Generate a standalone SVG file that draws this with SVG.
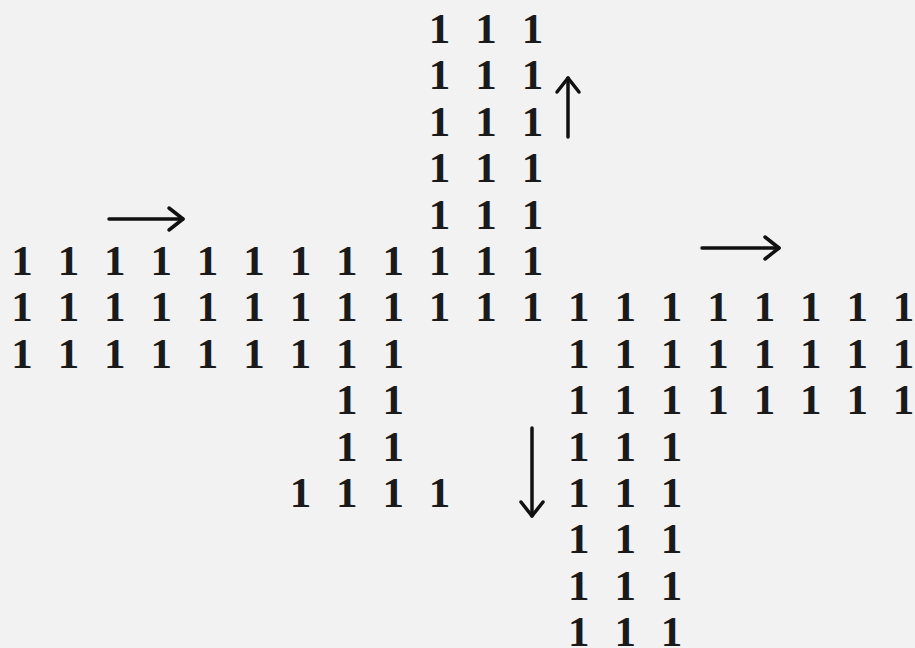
<svg xmlns="http://www.w3.org/2000/svg" width="915" height="648" viewBox="0 0 915 648">
<style>
.d{font-family:"Liberation Serif","DejaVu Serif",serif;font-size:43px;font-weight:bold;fill:#1a1a1a;text-anchor:middle}
.a{fill:none;stroke:#111;stroke-width:3.5;stroke-linecap:round;stroke-linejoin:round}
</style>
<defs>
<marker id="h" markerUnits="userSpaceOnUse" markerWidth="40" markerHeight="40" viewBox="-20 -20 40 40" refX="0" refY="0" orient="auto" overflow="visible">
<path d="M-14,-11 L0,0 L-14,11" fill="none" stroke="#111" stroke-width="3.5" stroke-linecap="round" stroke-linejoin="round"/>
</marker>
</defs>
<rect width="915" height="648" fill="#f2f2f2"/>
<g id="grid">
<g id="up-column">
<text class="d" x="439.6 486 532.4" y="43">111</text>
<text class="d" x="439.6 486 532.4" y="89.4">111</text>
<text class="d" x="439.6 486 532.4" y="135.8">111</text>
<text class="d" x="439.6 486 532.4" y="182.2">111</text>
<text class="d" x="439.6 486 532.4" y="228.6">111</text>
</g>
<g id="left-band">
<text class="d" x="22 68.4 114.8 161.2 207.6 254 300.4 346.8 393.2 439.6 486 532.4" y="275">111111111111</text>
<text class="d" x="22 68.4 114.8 161.2 207.6 254 300.4 346.8 393.2 439.6 486 532.4" y="321.4">111111111111</text>
<text class="d" x="22 68.4 114.8 161.2 207.6 254 300.4 346.8 393.2" y="367.8">111111111</text>
<text class="d" x="346.8 393.2" y="414.2">11</text>
<text class="d" x="346.8 393.2" y="460.6">11</text>
<text class="d" x="300.4 346.8 393.2 439.6" y="507">1111</text>
</g>
<g id="right-band">
<text class="d" x="578.8 625.2 671.6 718 764.4 810.8 857.2 903.6" y="321.4">11111111</text>
<text class="d" x="578.8 625.2 671.6 718 764.4 810.8 857.2 903.6" y="367.8">11111111</text>
<text class="d" x="578.8 625.2 671.6 718 764.4 810.8 857.2 903.6" y="414.2">11111111</text>
</g>
<g id="down-column">
<text class="d" x="578.8 625.2 671.6" y="460.6">111</text>
<text class="d" x="578.8 625.2 671.6" y="507">111</text>
<text class="d" x="578.8 625.2 671.6" y="553.4">111</text>
<text class="d" x="578.8 625.2 671.6" y="599.8">111</text>
<text class="d" x="578.8 625.2 671.6" y="645.5">111</text>
</g>
</g>
<g id="connectors">
<path class="a" d="M109,219 L183,219" marker-end="url(#h)"/>
<path class="a" d="M702,248 L779,248" marker-end="url(#h)"/>
<path class="a" d="M568,137 L568,78" marker-end="url(#h)"/>
<path class="a" d="M532,428 L532,516" marker-end="url(#h)"/>
</g>
</svg>
